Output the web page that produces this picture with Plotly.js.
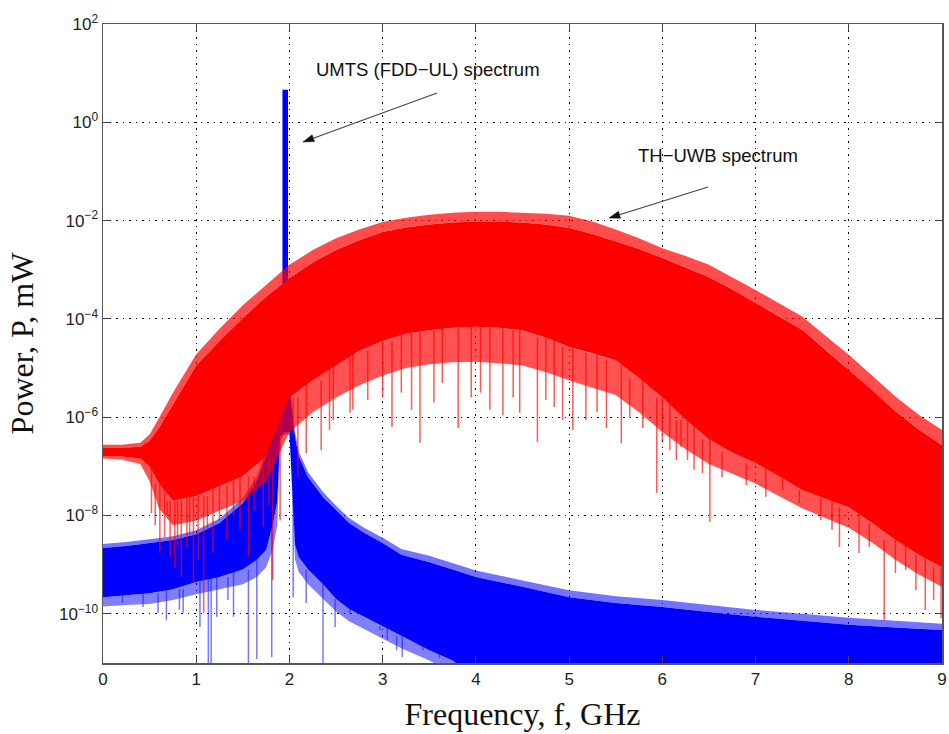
<!DOCTYPE html>
<html><head><meta charset="utf-8">
<script src="https://cdn.plot.ly/plotly-3.0.1.min.js"></script>
<style>html,body{margin:0;padding:0;background:#fff;} #chart{width:949px;height:734px;}</style>
</head><body><div id="chart"></div>
<script>
// ---- data (log10 of power in mW, frequency in GHz) ----
const xTicks = [0, 1, 2, 3, 4, 5, 6, 7, 8, 9];
const yTickExp = [-10, -8, -6, -4, -2, 0, 2];

// TH-UWB spectrum (red): envelope
const redF      = [0, 0.2, 0.4, 0.5, 0.6, 0.75, 1.0, 1.25, 1.5, 1.75, 2.0, 2.25, 2.5, 2.75, 3.0, 3.25, 3.5, 3.75, 4.0, 4.25, 4.5, 4.75, 5.0, 5.25, 5.5, 5.75, 6.0, 6.25, 6.5, 6.75, 7.0, 7.25, 7.5, 7.75, 8.0, 8.25, 8.5, 8.75, 9.0];
const redPeak   = [-6.56, -6.56, -6.52, -6.35, -6.02, -5.5, -4.72, -4.2, -3.72, -3.3, -2.9, -2.6, -2.36, -2.18, -2.03, -1.94, -1.88, -1.84, -1.82, -1.82, -1.84, -1.86, -1.9, -2.02, -2.18, -2.36, -2.56, -2.72, -2.9, -3.15, -3.41, -3.68, -3.95, -4.34, -4.73, -5.15, -5.58, -5.95, -6.26];
const redTop    = [-6.62, -6.62, -6.60, -6.48, -6.22, -5.75, -4.95, -4.45, -3.98, -3.55, -3.17, -2.85, -2.60, -2.40, -2.23, -2.14, -2.08, -2.04, -2.02, -2.02, -2.04, -2.08, -2.15, -2.27, -2.42, -2.58, -2.76, -2.95, -3.15, -3.40, -3.68, -3.95, -4.22, -4.62, -5.04, -5.45, -5.88, -6.25, -6.57];
const redBot    = [-6.80, -6.80, -6.84, -7.00, -7.35, -7.70, -7.60, -7.40, -7.20, -6.80, -5.60, -5.25, -4.95, -4.65, -4.45, -4.30, -4.23, -4.18, -4.16, -4.18, -4.23, -4.38, -4.57, -4.70, -4.84, -5.20, -5.60, -6.05, -6.45, -6.72, -6.93, -7.20, -7.48, -7.65, -7.83, -8.15, -8.50, -8.80, -9.05];
const redFringe = [-6.84, -6.86, -6.95, -7.30, -7.85, -8.20, -8.10, -7.90, -7.70, -7.30, -6.30, -5.90, -5.60, -5.35, -5.15, -5.00, -4.92, -4.88, -4.87, -4.90, -4.95, -5.08, -5.25, -5.40, -5.55, -5.90, -6.30, -6.65, -6.95, -7.15, -7.35, -7.60, -7.85, -8.05, -8.25, -8.55, -8.90, -9.20, -9.45];
const redSpikeF   = [0.52, 0.56, 0.61, 0.66, 0.69, 0.72, 0.77, 0.80, 0.84, 0.90, 0.93, 0.97, 1.02, 1.08, 1.12, 1.18, 1.25, 1.33, 1.40, 1.47, 1.56, 1.62, 1.72, 1.78, 1.82, 1.90, 2.04, 2.09, 2.18, 2.34, 2.43, 2.47, 2.65, 2.68, 2.84, 3.00, 3.10, 3.20, 3.31, 3.40, 3.55, 3.64, 3.81, 3.95, 4.05, 4.15, 4.29, 4.40, 4.47, 4.66, 4.75, 4.84, 4.93, 5.04, 5.18, 5.30, 5.40, 5.56, 5.65, 5.79, 5.94, 6.00, 6.08, 6.15, 6.20, 6.27, 6.34, 6.43, 6.51, 6.64, 6.90, 7.11, 7.29, 7.47, 7.70, 7.82, 7.90, 8.11, 8.22, 8.38, 8.50, 8.61, 8.72, 8.82, 8.91, 8.99];
const redSpikeLog = [-7.95, -8.2, -8.76, -8.44, -8.0, -8.84, -9.05, -8.6, -9.25, -8.64, -8.4, -9.37, -8.9, -9.98, -8.3, -8.76, -8.1, -8.5, -8.0, -8.29, -8.84, -7.9, -8.23, -7.8, -9.31, -8.1, -6.32, -7.22, -6.73, -6.67, -6.26, -6.06, -5.91, -5.85, -5.65, -5.6, -6.2, -5.5, -5.85, -6.52, -5.7, -5.3, -6.22, -5.6, -5.5, -5.85, -5.96, -5.6, -5.91, -6.5, -5.65, -5.79, -6.06, -6.26, -6.06, -5.9, -6.22, -6.53, -6.0, -6.22, -7.54, -6.5, -6.67, -6.87, -6.6, -6.87, -7.07, -7.14, -8.13, -7.22, -7.38, -7.62, -7.48, -7.75, -8.09, -8.29, -8.64, -8.76, -8.64, -10.13, -9.17, -9.11, -9.52, -9.92, -9.72, -10.09];

// UMTS (FDD-UL) spectrum (blue)
const blueF      = [0, 0.25, 0.5, 0.75, 1.0, 1.25, 1.5, 1.65, 1.75, 1.82, 1.87, 1.9, 1.95, 2.0, 2.03, 2.06, 2.1, 2.2, 2.36, 2.5, 2.64, 2.8, 3.0, 3.2, 3.5, 3.75, 4.0, 4.5, 5.0, 5.5, 6.0, 6.5, 7.0, 7.5, 8.0, 8.5, 9.0];
const bluePeak   = [-8.58, -8.54, -8.48, -8.42, -8.30, -8.06, -7.65, -7.2, -6.7, -6.25, -5.9, -5.6, -5.2, -5.3, -5.75, -6.3, -6.7, -7.12, -7.52, -7.8, -8.05, -8.25, -8.45, -8.68, -8.82, -8.97, -9.12, -9.32, -9.52, -9.64, -9.72, -9.82, -9.92, -10.0, -10.08, -10.14, -10.2];
const blueTop    = [-8.66, -8.62, -8.56, -8.50, -8.38, -8.15, -7.75, -7.30, -6.80, -6.35, -6.00, -5.70, -5.30, -5.40, -5.85, -6.40, -6.80, -7.22, -7.63, -7.90, -8.15, -8.35, -8.56, -8.80, -8.95, -9.10, -9.25, -9.45, -9.66, -9.78, -9.86, -9.96, -10.06, -10.14, -10.22, -10.28, -10.33];
const blueBot    = [-9.66, -9.62, -9.58, -9.50, -9.35, -9.25, -9.10, -8.90, -8.70, -8.20, -7.70, -6.40, -6.30, -6.30, -7.40, -8.60, -8.85, -9.10, -9.40, -9.70, -9.90, -10.05, -10.25, -10.45, -10.74, -10.95, -11.3, -11.5, -11.5, -11.5, -11.5, -11.5, -11.5, -11.5, -11.5, -11.5, -11.5];
const blueFringe = [-9.85, -9.82, -9.80, -9.72, -9.60, -9.50, -9.40, -9.25, -9.05, -8.70, -8.20, -6.45, -6.35, -6.35, -7.60, -8.90, -9.15, -9.40, -9.70, -9.95, -10.15, -10.30, -10.50, -10.70, -10.95, -11.2, -11.5, -11.5, -11.5, -11.5, -11.5, -11.5, -11.5, -11.5, -11.5, -11.5, -11.5];
const blueSpikeF   = [0.21, 0.43, 0.59, 0.68, 0.82, 0.86, 1.04, 1.13, 1.16, 1.22, 1.34, 1.40, 1.56, 1.65, 1.81, 2.04, 2.18, 2.36, 2.49, 2.65, 2.97, 3.05, 3.15, 3.21, 3.43, 3.61];
const blueSpikeLog = [-9.78, -9.86, -9.98, -10.13, -9.92, -9.98, -10.27, -11.5, -11.5, -10.06, -9.72, -10.06, -11.5, -10.92, -10.88, -9.66, -9.78, -11.5, -10.27, -9.98, -10.33, -10.53, -10.74, -10.88, -10.67, -10.9];
// UMTS carrier (narrow band near 1.95 GHz)
const carrierF = [1.925, 1.985];
const carrierTopLog = 0.66;
const carrierBaseLog = -4.5;

// ---- helpers ----
const pw = a => a.map(v => Math.pow(10, v));
function band(xs, hi, lo) {
  return { x: xs.concat(xs.slice().reverse()), y: pw(hi).concat(pw(lo).reverse()) };
}
function nearest(xs, arr, f) {
  let bi = 0, bd = Infinity;
  xs.forEach((x, i) => { const d = Math.abs(x - f); if (d < bd) { bd = d; bi = i; } });
  return arr[bi];
}
function spikes(fs, lows, xs, anchor) {
  const x = [], y = [];
  fs.forEach((f, i) => { x.push(f, f, null); y.push(Math.pow(10, lows[i]), Math.pow(10, nearest(xs, anchor, f)), null); });
  return { x, y };
}
function poly(b, color) {
  return { x: b.x, y: b.y, type: 'scatter', mode: 'lines', fill: 'toself', fillcolor: color,
           line: { width: 0, color: color }, hoverinfo: 'skip', showlegend: false };
}
function lines(s, color, w) {
  return { x: s.x, y: s.y, type: 'scatter', mode: 'lines', line: { width: w, color: color },
           connectgaps: false, hoverinfo: 'skip', showlegend: false };
}

const traces = [
  poly(band(blueF, blueBot, blueFringe), 'rgba(0,0,255,0.5)'),
  lines(spikes(blueSpikeF, blueSpikeLog, blueF, blueBot), 'rgba(30,30,255,0.6)', 1.5),
  poly(band(blueF, bluePeak, blueTop), 'rgba(0,0,255,0.55)'),
  poly(band(blueF, blueTop, blueBot), '#0000ff'),
  poly({ x: [carrierF[0], carrierF[0], carrierF[1], carrierF[1]],
         y: pw([carrierBaseLog, carrierTopLog, carrierTopLog, carrierBaseLog]) }, '#0000ff'),
  lines(spikes(redSpikeF, redSpikeLog, redF, redBot), 'rgba(255,0,0,0.65)', 1.5),
  poly(band(redF, redBot, redFringe), 'rgba(255,0,0,0.68)'),
  poly(band(redF, redPeak, redTop), 'rgba(255,0,0,0.7)'),
  poly(band(redF, redTop, redBot), '#ff0000')
];

const tickFont = { family: 'Liberation Sans, Arial, sans-serif', size: 17, color: '#222' };
const titleFont = { family: 'Liberation Serif, Times New Roman, serif', size: 32, color: '#111' };
const annFont = { family: 'Liberation Sans, Arial, sans-serif', size: 18.5, color: '#111' };

// plot-area geometry (pixels) used only to place the annotation arrows
const PL = 103, PT = 24, PW = 839, PH = 639;
const arrows = [ // tail -> head, pixel positions of the pointer arrows
  { tx: 437, ty: 93, hx: 303, hy: 142 },
  { tx: 708, ty: 187, hx: 609, hy: 218 }
];
const toPx = (px, py) => [(px - PL) / PW, (PT + PH - py) / PH];
const shapes = [];
arrows.forEach(a => {
  const dx = a.hx - a.tx, dy = a.hy - a.ty, L = Math.hypot(dx, dy);
  const ux = dx / L, uy = dy / L, hl = 11, hw = 3.6;
  const bx = a.hx - ux * hl, by = a.hy - uy * hl;
  const t = toPx(a.tx, a.ty), b = toPx(bx, by);
  shapes.push({ type: 'line', xref: 'paper', yref: 'paper', x0: t[0], y0: t[1], x1: b[0], y1: b[1],
                line: { color: '#444', width: 1.2 } });
  const p1 = toPx(a.hx, a.hy), p2 = toPx(bx - uy * hw, by + ux * hw), p3 = toPx(bx + uy * hw, by - ux * hw);
  shapes.push({ type: 'path', xref: 'paper', yref: 'paper',
                path: `M ${p1[0]} ${p1[1]} L ${p2[0]} ${p2[1]} L ${p3[0]} ${p3[1]} Z`,
                fillcolor: '#111', line: { color: '#111', width: 0.5 } });
});

const layout = {
  width: 949, height: 734,
  margin: { l: PL, r: 949 - PL - PW, t: PT, b: 734 - PT - PH },
  paper_bgcolor: '#fff', plot_bgcolor: '#fff',
  showlegend: false,
  xaxis: {
    range: [0, 9], tickvals: xTicks, ticktext: xTicks.map(String),
    ticks: 'inside', ticklen: 7, tickcolor: '#444', mirror: 'allticks',
    showline: true, linecolor: '#555', linewidth: 1.5,
    showgrid: true, gridcolor: '#000', gridwidth: 1, griddash: '1.5px,5px',
    zeroline: false, tickfont: tickFont,
    title: { text: 'Frequency, f, GHz', font: titleFont, standoff: 14 }
  },
  yaxis: {
    type: 'log', range: [-11, 2],
    tickvals: yTickExp.map(e => Math.pow(10, e)),
    ticktext: yTickExp.map(e => '10<sup>' + String(e).replace('-', '\u2212') + '</sup>'),
    ticks: 'inside', ticklen: 7, tickcolor: '#444', mirror: 'allticks',
    showline: true, linecolor: '#555', linewidth: 1.5,
    showgrid: true, gridcolor: '#000', gridwidth: 1, griddash: '1.5px,5px',
    zeroline: false, tickfont: tickFont,
    title: { text: 'Power, P, mW', font: titleFont, standoff: 16 }
  },
  shapes: shapes,
  annotations: [
    { x: 3.49, y: 1.08, xref: 'x', yref: 'y', text: 'UMTS (FDD\u2212UL) spectrum', showarrow: false, font: annFont },
    { x: 6.6, y: -0.665, xref: 'x', yref: 'y', text: 'TH\u2212UWB spectrum', showarrow: false, font: annFont }
  ]
};

Plotly.newPlot('chart', traces, layout, { staticPlot: true, displayModeBar: false });
</script>
</body></html>
